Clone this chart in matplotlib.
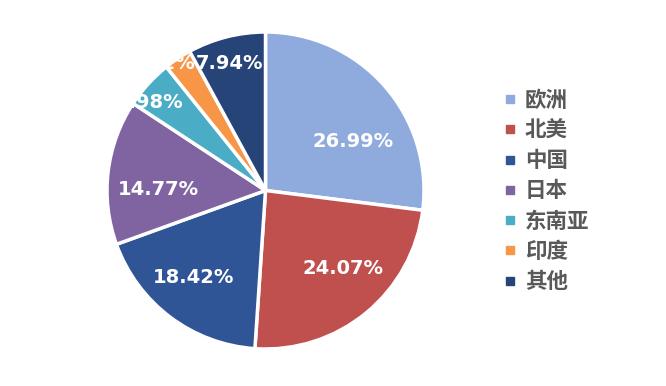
import matplotlib
matplotlib.use('Agg')
import matplotlib.pyplot as plt
from matplotlib.lines import Line2D

plt.rcParams['font.family'] = ['Noto Sans CJK SC', 'DejaVu Sans']

regions = ['欧洲', '北美', '中国', '日本', '东南亚', '印度', '其他']
shares = [26.99, 24.07, 18.42, 14.77, 4.98, 2.82, 7.94]
colors = ['#8FAADC', '#C0504D', '#2F5597', '#8064A2', '#4BACC6', '#F79646', '#264478']

# where the percentage labels sit, in units of the pie radius (layout only)
label_pos = [(0.552, 0.312), (0.489, -0.489), (-0.457, -0.552), (-0.678, 0.009),
             (-0.735, 0.558), (-0.655, 0.804), (-0.224, 0.804)]

fig = plt.figure(figsize=(6.66, 3.86), dpi=100)
W, H = 666, 386
ax = fig.add_axes([107 / W, (H - 349) / H, 317 / W, 317 / H])

wedges, texts, autotexts = ax.pie(
    shares, colors=colors, startangle=90, counterclock=False,
    autopct=lambda p: '%.2f%%' % p, radius=1,
    wedgeprops=dict(edgecolor='white', linewidth=2.5))
for t, pos in zip(autotexts, label_pos):
    t.set_position(pos)
    t.set_color('white')
    t.set_fontsize(14)
    t.set_fontweight('bold')
    t.set_family(['DejaVu Sans'])
ax.set_xlim(-1, 1)
ax.set_ylim(-1, 1)
ax.set_aspect('equal')

handles = [Line2D([], [], marker='s', linestyle='', markersize=6,
                  markerfacecolor=c, markeredgecolor=c) for c in colors]
leg = fig.legend(handles, regions, loc='center left',
                 bbox_to_anchor=(483 / W, 1 - 191 / H), frameon=False,
                 handlelength=0.7, handletextpad=0.35, labelspacing=0.43,
                 prop={'size': 15.5, 'weight': 'bold'})
for t in leg.get_texts():
    t.set_color('#595959')

fig.savefig('out.png', dpi=100)
